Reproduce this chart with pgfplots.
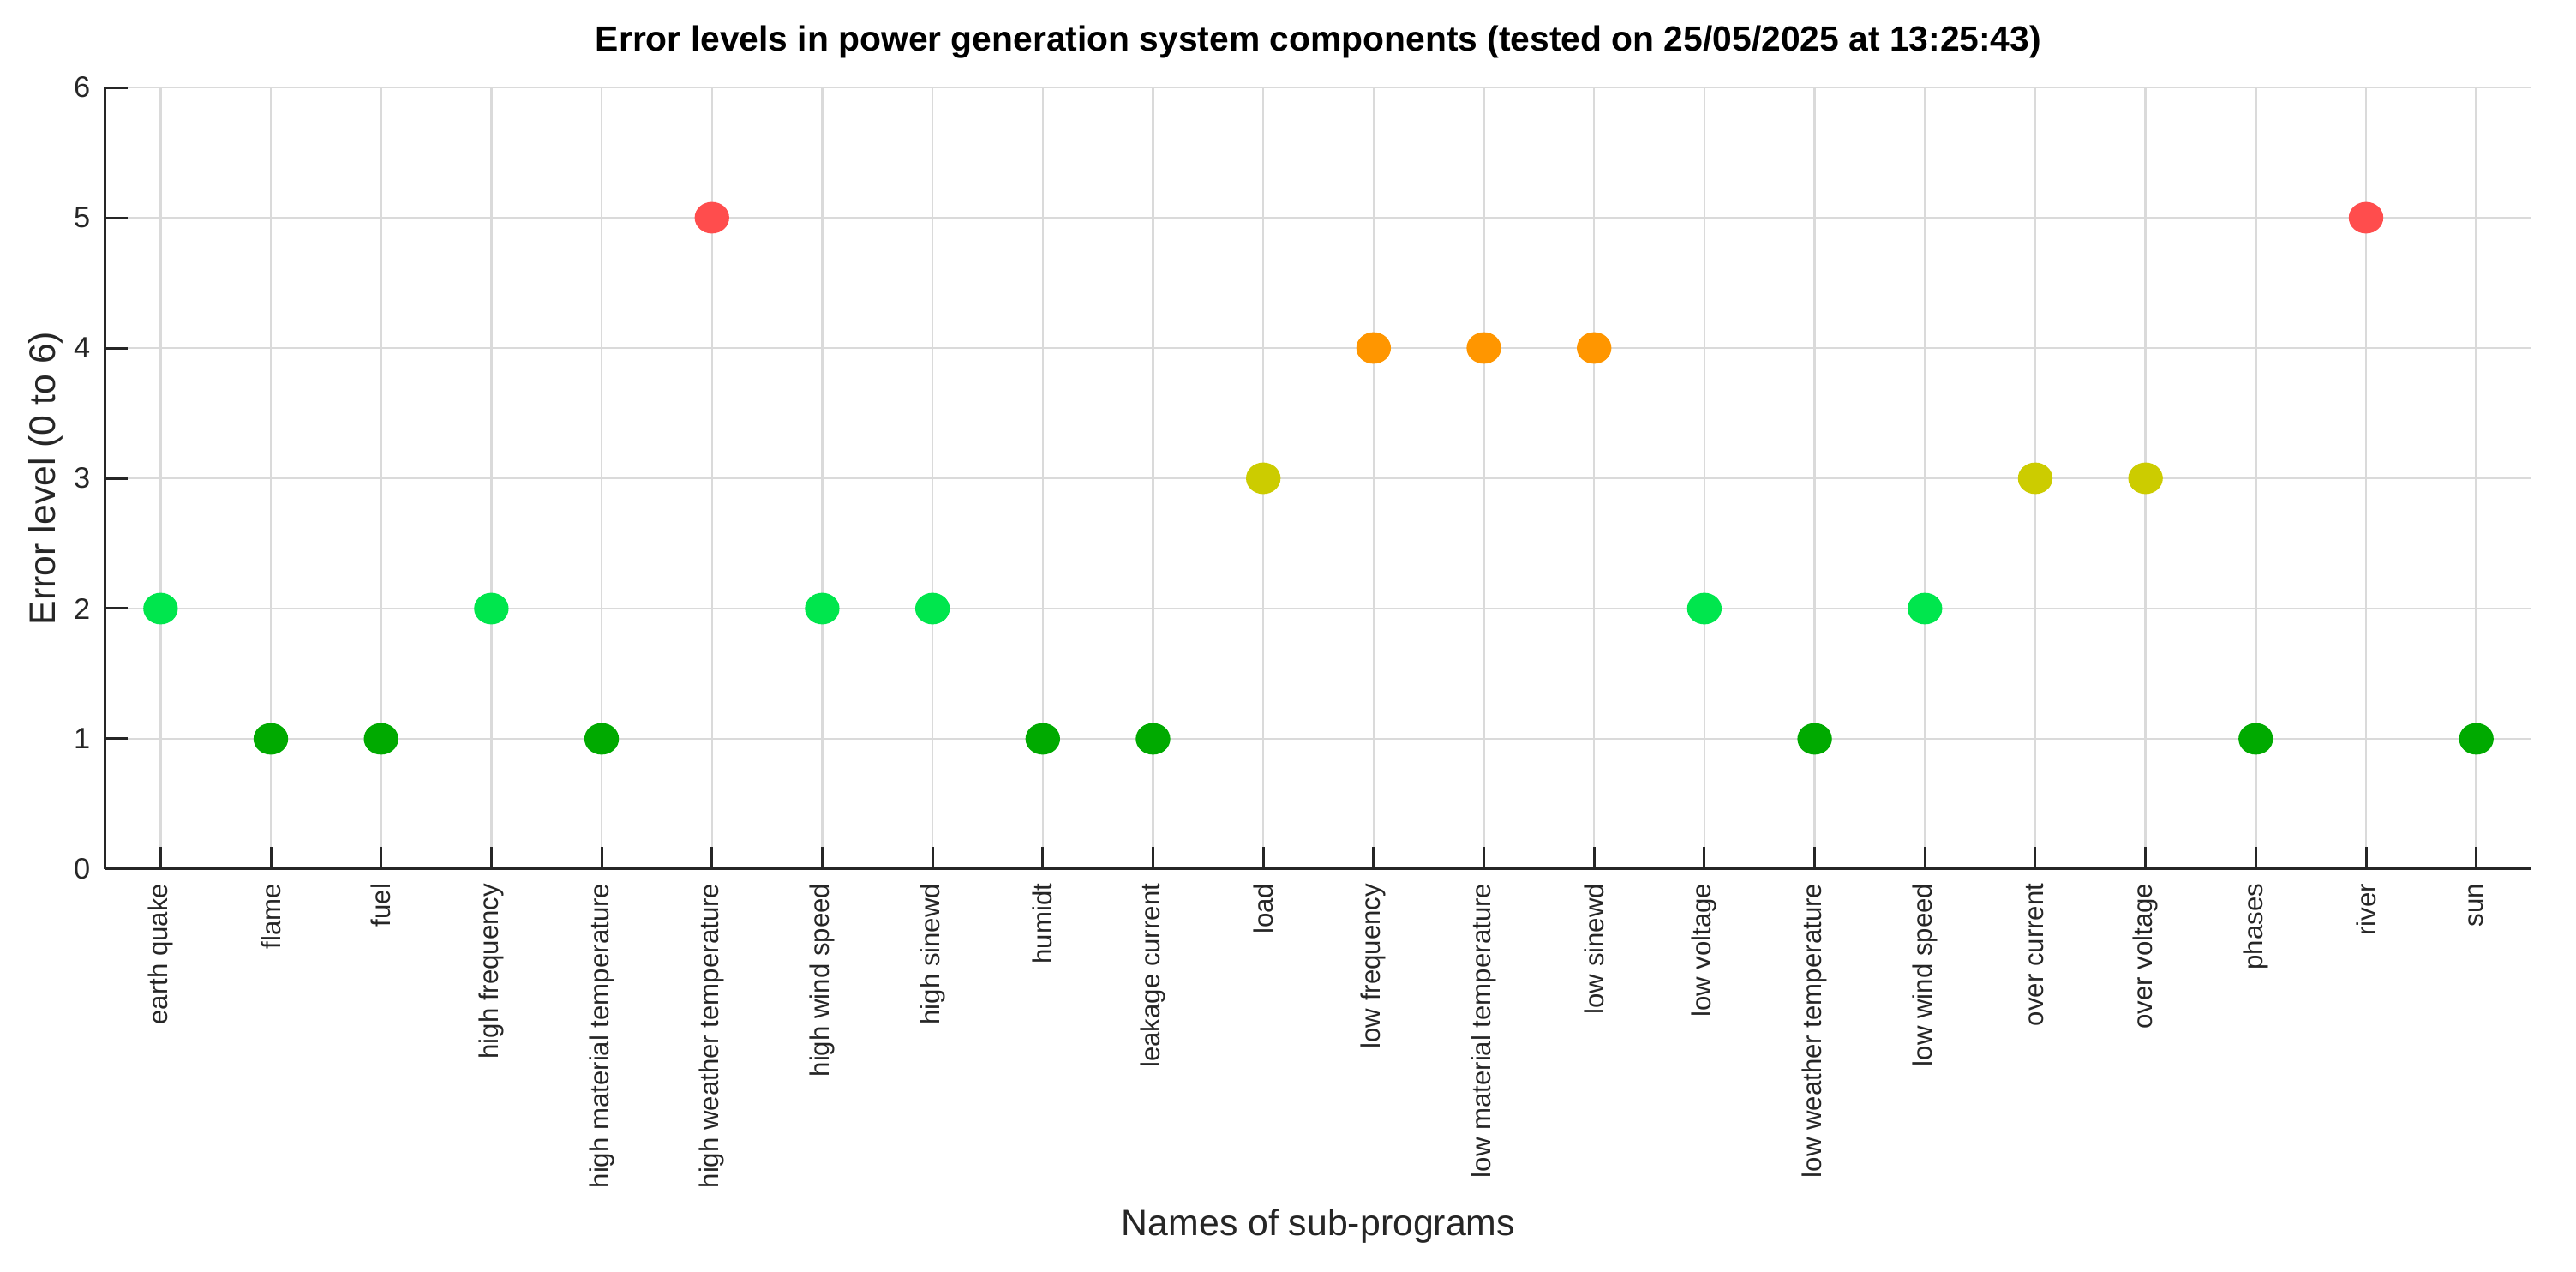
\documentclass[border=0pt]{standalone}
\usepackage{pgfplots}
\pgfplotsset{compat=1.18}
\usepackage{pgfplotstable}
\usepackage{fontspec}
\setmainfont{Liberation Sans}

\definecolor{lvone}{RGB}{0,170,0}
\definecolor{lvtwo}{RGB}{0,230,77}
\definecolor{lvthree}{RGB}{204,204,0}
\definecolor{lvfour}{RGB}{255,150,0}
\definecolor{lvfive}{RGB}{255,77,77}
\definecolor{gridgray}{RGB}{218,218,218}
\definecolor{axisdark}{RGB}{38,38,38}

% error level of each sub-program, in the order of the tick labels
\pgfplotstableread{
idx level
0 2
1 1
2 1
3 2
4 1
5 5
6 2
7 2
8 1
9 1
10 3
11 4
12 4
13 4
14 2
15 1
16 2
17 3
18 3
19 1
20 5
21 1
}\errdata

\begin{document}
\begin{tikzpicture}
\useasboundingbox (-30.75pt,-117.5pt) rectangle (720.75pt,253.5pt);
\begin{axis}[
  at={(0,0)}, anchor=south west,
  scale only axis,
  width=707.75pt, height=228pt,
  xmin=-0.5, xmax=21.5,
  ymin=0, ymax=6,
  ytick={0,1,2,3,4,5,6},
  xtick={0,...,21},
  xticklabels={earth quake, flame, fuel, high frequency, high material temperature,
    high weather temperature, high wind speed, high sinewd, humidt, leakage current,
    load, low frequency, low material temperature, low sinewd, low voltage,
    low weather temperature, low wind speed, over current, over voltage, phases,
    river, sun},
  axis x line*=bottom,
  axis y line*=left,
  axis line style={axisdark, line width=0.75pt, -},
  tick style={axisdark, line width=0.75pt},
  major tick length=6.5pt,
  tick align=inside,
  grid=major,
  major grid style={gridgray, line width=0.6pt},
  /pgf/number format/assume math mode=true,
  xticklabel style={rotate=90, anchor=east, inner xsep=4pt, inner ysep=0pt,
    font=\fontsize{7.8}{9}\selectfont, text=axisdark},
  yticklabel style={anchor=east, inner sep=0pt, xshift=-4.25pt,
    font=\fontsize{8.6}{10}\selectfont, text=axisdark},
  title={Error levels in power generation system components (tested on 25/05/2025 at 13:25:43)},
  title style={at={(axis description cs:0.5,1)}, anchor=base, yshift=4.75pt,
    font=\bfseries\fontsize{10.2}{12}\selectfont, inner sep=0pt},
  xlabel={Names of sub-programs},
  ylabel={Error level (0 to 6)},
  every axis x label/.style={at={(axis description cs:0.5,0)}, anchor=base,
    yshift=-106.75pt, inner sep=0pt, font=\fontsize{10.7}{12}\selectfont, text=axisdark},
  every axis y label/.style={at={(axis description cs:-0.02049,0.5)}, rotate=90, anchor=base,
    inner sep=0pt, font=\fontsize{10.7}{12}\selectfont, text=axisdark},
  clip=false,
]
\addplot[
  only marks, scatter,
  scatter src=explicit symbolic,
  mark size=4.4pt,
  every mark/.append style={xscale=1.1},
  scatter/classes={
    1={mark=*, draw=lvone, fill=lvone},
    2={mark=*, draw=lvtwo, fill=lvtwo},
    3={mark=*, draw=lvthree, fill=lvthree},
    4={mark=*, draw=lvfour, fill=lvfour},
    5={mark=*, draw=lvfive, fill=lvfive}},
] table[x=idx, y=level, meta=level] {\errdata};
\end{axis}
\end{tikzpicture}
\end{document}
